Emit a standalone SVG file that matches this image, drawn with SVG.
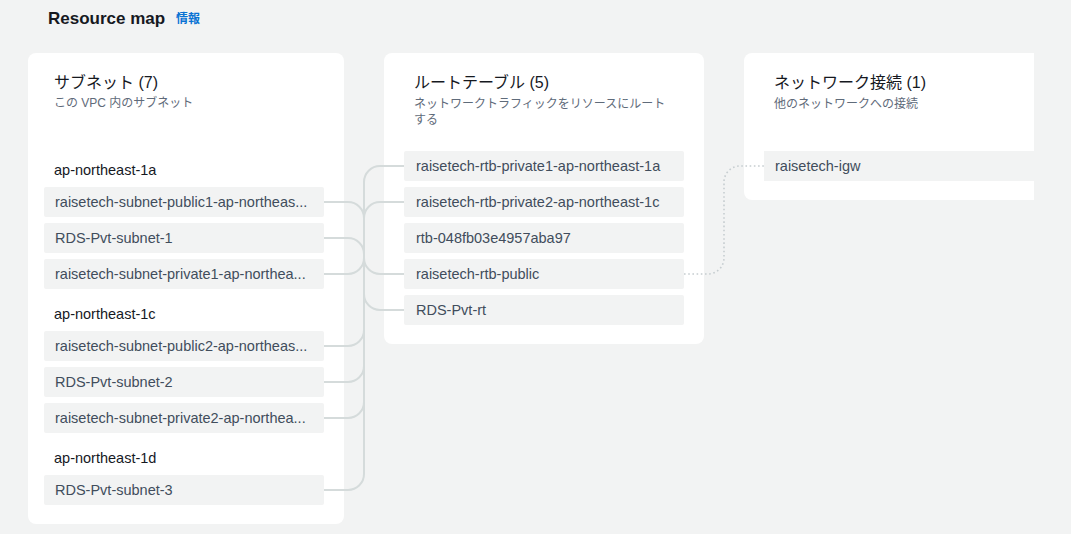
<svg xmlns="http://www.w3.org/2000/svg" width="1071" height="534" viewBox="0 0 1071 534">
<style>
text{font-family:"Liberation Sans","Noto Sans CJK JP",sans-serif}
.bg{fill:#f2f3f3}
.panel{fill:#ffffff}
.row{fill:#f2f3f3}
.rt{font-size:14.5px;fill:#414d5c}
.title{font-size:16px;fill:#16191f}
.sub{font-size:12px;fill:#5f6b7a}
.az{font-size:14.5px;fill:#16191f}
.conn{fill:none;stroke:#d5dbdb;stroke-width:2}
.dot{fill:none;stroke:#c6cdd0;stroke-width:1.6;stroke-dasharray:1.6 2.6}
</style>
<rect class="bg" x="0" y="0" width="1071" height="534"/>
<g id="header">
<text x="48" y="24" style="font-size:17px;font-weight:bold;fill:#16191f">Resource map</text>
<text x="176" y="23" style="font-size:12px;font-weight:bold;fill:#0972d3">情報</text>
</g>
<g id="panel-subnets">
<rect class="panel" x="28" y="53" width="316" height="471" rx="8"/>
<text class="title" x="54" y="88">サブネット (7)</text>
<text class="sub" x="54" y="107">この VPC 内のサブネット</text>
<text class="az" x="54" y="175">ap-northeast-1a</text>
<text class="az" x="54" y="319">ap-northeast-1c</text>
<text class="az" x="54" y="463">ap-northeast-1d</text>
</g>
<g id="subnet-public1"><rect class="row" x="44" y="187" width="280" height="30" rx="2"/><text class="rt" x="55" y="207">raisetech-subnet-public1-ap-northeas...</text></g>
<g id="subnet-rds1"><rect class="row" x="44" y="223" width="280" height="30" rx="2"/><text class="rt" x="55" y="243">RDS-Pvt-subnet-1</text></g>
<g id="subnet-private1"><rect class="row" x="44" y="259" width="280" height="30" rx="2"/><text class="rt" x="55" y="279">raisetech-subnet-private1-ap-northea...</text></g>
<g id="subnet-public2"><rect class="row" x="44" y="331" width="280" height="30" rx="2"/><text class="rt" x="55" y="351">raisetech-subnet-public2-ap-northeas...</text></g>
<g id="subnet-rds2"><rect class="row" x="44" y="367" width="280" height="30" rx="2"/><text class="rt" x="55" y="387">RDS-Pvt-subnet-2</text></g>
<g id="subnet-private2"><rect class="row" x="44" y="403" width="280" height="30" rx="2"/><text class="rt" x="55" y="423">raisetech-subnet-private2-ap-northea...</text></g>
<g id="subnet-rds3"><rect class="row" x="44" y="475" width="280" height="30" rx="2"/><text class="rt" x="55" y="495">RDS-Pvt-subnet-3</text></g>

<g id="panel-rtb">
<rect class="panel" x="384" y="53" width="320" height="291" rx="8"/>
<text class="title" x="414" y="88">ルートテーブル (5)</text>
<text class="sub" x="414" y="108">ネットワークトラフィックをリソースにルート</text>
<text class="sub" x="414" y="124">する</text>
</g>
<g id="rtb-private1"><rect class="row" x="404" y="151" width="280" height="30" rx="2"/><text class="rt" x="416" y="171">raisetech-rtb-private1-ap-northeast-1a</text></g>
<g id="rtb-private2"><rect class="row" x="404" y="187" width="280" height="30" rx="2"/><text class="rt" x="416" y="207">raisetech-rtb-private2-ap-northeast-1c</text></g>
<g id="rtb-main"><rect class="row" x="404" y="223" width="280" height="30" rx="2"/><text class="rt" x="416" y="243">rtb-048fb03e4957aba97</text></g>
<g id="rtb-public"><rect class="row" x="404" y="259" width="280" height="30" rx="2"/><text class="rt" x="416" y="279">raisetech-rtb-public</text></g>
<g id="rtb-rds"><rect class="row" x="404" y="295" width="280" height="30" rx="2"/><text class="rt" x="416" y="315">RDS-Pvt-rt</text></g>

<g id="panel-network">
<path class="panel" d="M752,53 H1034 V200 H752 A8,8 0 0 1 744,192 V61 A8,8 0 0 1 752,53 Z"/>
<text class="title" x="774" y="88">ネットワーク接続 (1)</text>
<text class="sub" x="774" y="108">他のネットワークへの接続</text>
</g>
<g id="igw"><rect class="row" x="764" y="151" width="270" height="30"/><text class="rt" x="775" y="171">raisetech-igw</text></g>

<g id="connectors">
<path class="conn" d="M364,182 V474"/>
<path class="conn" d="M324,202 H348 A16,16 0 0 1 364,218"/>
<path class="conn" d="M324,238 H348 A16,16 0 0 1 364,254"/>
<path class="conn" d="M324,274 H348 A16,16 0 0 0 364,258"/>
<path class="conn" d="M324,346 H348 A16,16 0 0 0 364,330"/>
<path class="conn" d="M324,382 H348 A16,16 0 0 0 364,366"/>
<path class="conn" d="M324,418 H348 A16,16 0 0 0 364,402"/>
<path class="conn" d="M324,490 H348 A16,16 0 0 0 364,474"/>
<path class="conn" d="M404,166 H380 A16,16 0 0 0 364,182"/>
<path class="conn" d="M404,202 H380 A16,16 0 0 0 364,218"/>
<path class="conn" d="M404,274 H380 A16,16 0 0 1 364,258"/>
<path class="conn" d="M404,310 H380 A16,16 0 0 1 364,294"/>
<path class="dot" d="M684,274 H708 A16,16 0 0 0 724,258 V182 A16,16 0 0 1 740,166 H764"/>
</g>
</svg>
